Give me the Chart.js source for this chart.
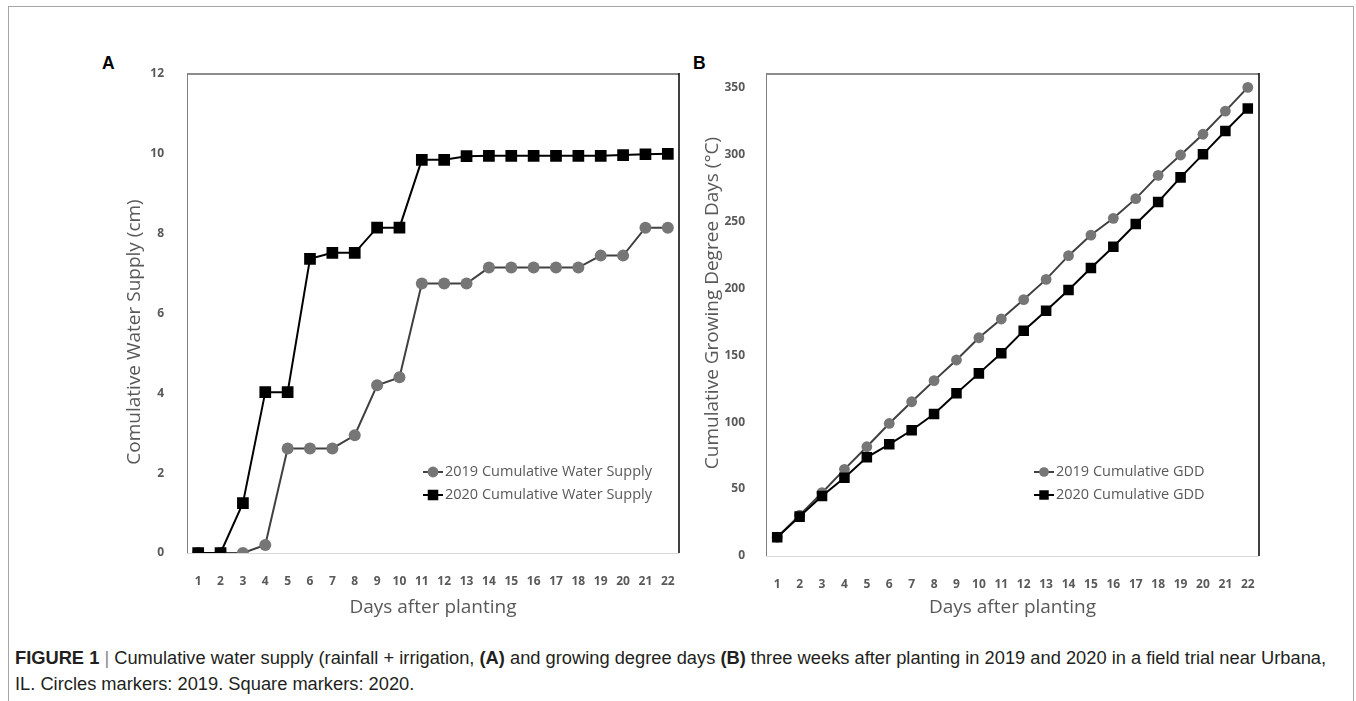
<!DOCTYPE html>
<html>
<head>
<meta charset="utf-8">
<script src="https://cdn.jsdelivr.net/npm/chart.js@4.4.1/dist/chart.umd.min.js"></script>
<style>
  html, body { margin: 0; padding: 0; background: #fff; }
  body { width: 1356px; height: 701px; position: relative; overflow: hidden; }
  .frame { position: absolute; left: 8px; top: 6px; width: 1346px; height: 740px; border: 1px solid #a6a6a6; box-sizing: border-box; }
  .panel-label { position: absolute; top: 53px; font: bold 17.5px 'Liberation Sans', Arial, sans-serif; line-height: 20px; color: #000; }
  .chart { position: absolute; top: 40px; }
  .caption { position: absolute; left: 15px; font: 18.3px 'Liberation Sans', Arial, sans-serif; line-height: 20px; color: #231f20; white-space: nowrap; }
  .caption b { font-weight: bold; }
  .caption .bar { color: #888; }
</style>
</head>
<body>
<div class="frame"></div>
<div class="panel-label" style="left:102px">A</div>
<div class="panel-label" style="left:693px">B</div>
<canvas id="waterChart" class="chart" width="600" height="590" style="left:100px"></canvas>
<canvas id="gddChart" class="chart" width="600" height="590" style="left:690px"></canvas>
<div class="caption" style="top:648px"><b>FIGURE 1</b> <span class="bar">|</span> Cumulative water supply (rainfall + irrigation, <b>(A)</b> and growing degree days <b>(B)</b> three weeks after planting in 2019 and 2020 in a field trial near Urbana,</div>
<div class="caption" style="top:674px">IL. Circles markers: 2019. Square markers: 2020.</div>

<script>
const days = ['1', '2', '3', '4', '5', '6', '7', '8', '9', '10', '11',
              '12', '13', '14', '15', '16', '17', '18', '19', '20', '21', '22'];

// panel A, cm
const water2019 = [0, 0, 0, 0.2, 2.62, 2.62, 2.62, 2.95, 4.2, 4.4, 6.75,
                   6.75, 6.75, 7.15, 7.15, 7.15, 7.15, 7.15, 7.45, 7.45, 8.15, 8.15];
const water2020 = [0, 0, 1.25, 4.03, 4.03, 7.37, 7.52, 7.52, 8.15, 8.15, 9.85,
                   9.85, 9.94, 9.95, 9.95, 9.95, 9.95, 9.95, 9.95, 9.97, 9.99, 10.0];
const waterTicks = [0, 2, 4, 6, 8, 10, 12];

// panel B, degree days
const gdd2019 = [14, 30.5, 47.3, 64.7, 81.6, 99, 115.2, 131, 146.4, 163, 177,
                 191.5, 206.6, 224.3, 239.7, 252.2, 266.9, 284.3, 299.5, 315, 332.3, 350];
const gdd2020 = [14, 29.4, 44.8, 58.5, 73.7, 83.4, 93.9, 106, 121.5, 136.4, 151.4,
                 168.3, 183.2, 198.7, 215.1, 231, 248, 264.4, 282.8, 300, 317.4, 334.3];
const gddTicks = [0, 50, 100, 150, 200, 250, 300, 350];

const tickColor = '#595959';
const tickFont = { family: 'Open Sans', size: 12, weight: 'bold' };
const titleFont = { family: 'Open Sans', size: 19 };

// plot area outline: grey top/left, black right, light bottom
const plotFrame = {
    id: 'plotFrame',
    beforeDatasetsDraw(chart) {
        const { ctx, chartArea: a } = chart;
        ctx.save();
        ctx.lineWidth = 2;
        ctx.strokeStyle = '#8c8c8c';
        ctx.beginPath(); ctx.moveTo(a.left, a.top); ctx.lineTo(a.right, a.top); ctx.stroke();
        ctx.lineWidth = 1;
        ctx.strokeStyle = '#7f7f7f';
        ctx.beginPath(); ctx.moveTo(a.left + 0.5, a.top); ctx.lineTo(a.left + 0.5, a.bottom); ctx.stroke();
        ctx.strokeStyle = '#d9d9d9';
        ctx.beginPath(); ctx.moveTo(a.left, a.bottom + 0.5); ctx.lineTo(a.right, a.bottom + 0.5); ctx.stroke();
        ctx.lineWidth = 1.5;
        ctx.strokeStyle = '#000';
        ctx.beginPath(); ctx.moveTo(a.right, a.top - 1); ctx.lineTo(a.right, a.bottom); ctx.stroke();
        ctx.restore();
    }
};

// rotated y title, placed freely like the original
const sideTitle = {
    id: 'sideTitle',
    afterDraw(chart, args, opts) {
        const { ctx } = chart;
        ctx.save();
        ctx.translate(opts.x, opts.y);
        ctx.rotate(-Math.PI / 2);
        ctx.font = `${titleFont.size}px ${titleFont.family}`;
        ctx.fillStyle = tickColor;
        ctx.textAlign = 'center';
        ctx.textBaseline = 'middle';
        ctx.fillText(opts.text, 0, 0);
        ctx.restore();
    }
};

function marker(ctx, style, r, x, y) {
    ctx.beginPath();
    if (style === 'rect') {
        const s = Math.SQRT1_2 * r;
        ctx.rect(x - s, y - s, 2 * s, 2 * s);
    } else {
        ctx.arc(x, y, r, 0, Math.PI * 2);
    }
    ctx.fill();
}

// legend sitting inside the plot
const insideLegend = {
    id: 'insideLegend',
    afterDraw(chart, args, opts) {
        const { ctx } = chart;
        ctx.save();
        chart.data.datasets.forEach((ds, i) => {
            const y = opts.y + i * opts.rowGap;
            ctx.strokeStyle = ds.borderColor;
            ctx.lineWidth = ds.borderWidth;
            ctx.beginPath(); ctx.moveTo(opts.x - 10, y); ctx.lineTo(opts.x + 10, y); ctx.stroke();
            ctx.fillStyle = ds.pointBackgroundColor;
            marker(ctx, ds.pointStyle, ds.pointRadius * 0.9, opts.x, y);
            ctx.fillStyle = tickColor;
            ctx.font = `${opts.size}px Open Sans`;
            ctx.textAlign = 'left';
            ctx.textBaseline = 'middle';
            ctx.fillText(ds.label, opts.x + 12, y);
        });
        ctx.restore();
    }
};

function series(label, data, year, radius) {
    const is2019 = year === 2019;
    return {
        label: label,
        data: data,
        borderColor: is2019 ? '#404040' : '#000000',
        borderWidth: 2,
        pointStyle: is2019 ? 'circle' : 'rect',
        pointRadius: is2019 ? radius : radius * 1.38,
        pointBackgroundColor: is2019 ? '#767676' : '#000000',
        pointBorderWidth: 0,
        tension: 0,
        order: is2019 ? 1 : 0
    };
}

function buildOptions(cfg) {
    return {
        responsive: false,
        animation: false,
        events: [],
        devicePixelRatio: 1,
        layout: { padding: { left: 0, top: 34, right: cfg.padRight, bottom: 0 } },
        plugins: {
            legend: { display: false },
            tooltip: { enabled: false },
            sideTitle: cfg.sideTitle,
            insideLegend: cfg.legend
        },
        scales: {
            x: {
                type: 'category',
                offset: true,
                grid: { display: false },
                border: { display: false },
                ticks: { color: tickColor, font: tickFont, padding: 13, autoSkip: false, maxRotation: 0 },
                title: {
                    display: true,
                    text: 'Days after planting',
                    color: tickColor,
                    font: titleFont,
                    padding: { top: 0, bottom: 10.6 }
                },
                afterFit: s => { s.height = cfg.xHeight; }
            },
            y: {
                min: 0,
                max: cfg.yMax,
                afterBuildTicks: s => { s.ticks = cfg.yTicks.map(v => ({ value: v })); },
                grid: { display: false },
                border: { display: false },
                ticks: { color: tickColor, font: tickFont, padding: cfg.yPad },
                afterFit: s => { s.width = cfg.yWidth; }
            }
        }
    };
}

new Chart(document.getElementById('waterChart'), {
    type: 'line',
    data: {
        labels: days,
        datasets: [
            series('2019 Cumulative Water Supply', water2019, 2019, 6),
            series('2020 Cumulative Water Supply', water2020, 2020, 6)
        ]
    },
    options: buildOptions({
        padRight: 21, xHeight: 77, yWidth: 87, yPad: 15, yMax: 12, yTicks: waterTicks,
        sideTitle: { text: 'Comulative Water Supply (cm)', x: 35, y: 292 },
        legend: { x: 333, y: 432, rowGap: 23, size: 14.5 }
    }),
    plugins: [plotFrame, sideTitle, insideLegend]
});

new Chart(document.getElementById('gddChart'), {
    type: 'line',
    data: {
        labels: days,
        datasets: [
            series('2019 Cumulative GDD', gdd2019, 2019, 5.4),
            series('2020 Cumulative GDD', gdd2020, 2020, 5.4)
        ]
    },
    options: buildOptions({
        padRight: 31, xHeight: 74, yWidth: 76, yPad: 13, yMax: 360, yTicks: gddTicks,
        sideTitle: { text: 'Cumulative Growing Degree Days (°C)', x: 23, y: 263 },
        legend: { x: 354, y: 432, rowGap: 23, size: 14.5 }
    }),
    plugins: [plotFrame, sideTitle, insideLegend]
});
</script>
</body>
</html>
